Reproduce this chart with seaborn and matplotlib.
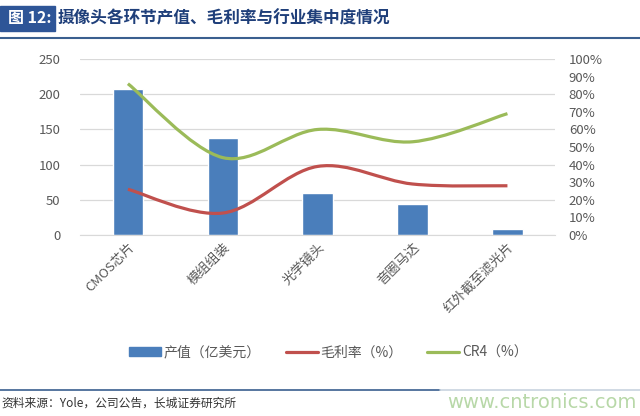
import numpy as np
import pandas as pd
import seaborn as sns
import matplotlib.pyplot as plt
from matplotlib.path import Path
from matplotlib.patches import PathPatch, Rectangle
from matplotlib.lines import Line2D

categories = ['CMOS芯片', '模组组装', '光学镜头', '音圈马达', '红外截至滤光片']
output_value = [207, 138, 60, 44, 9]          # 亿美元
gross_margin = [0.26, 0.125, 0.39, 0.29, 0.28]
cr4 = [0.86, 0.44, 0.60, 0.53, 0.69]
left_ticks = [0, 50, 100, 150, 200, 250]
right_ticks = [0, 0.1, 0.2, 0.3, 0.4, 0.5, 0.6, 0.7, 0.8, 0.9, 1.0]

sns.set_style('white')
plt.rcParams['font.family'] = ['Noto Sans CJK SC', 'DejaVu Sans']

blue = '#4A7EBB'
red = '#C0504D'
green = '#9BBB59'
grey = '#595959'


def smooth_path(xs, ys):
    # excel-like smoothed line: cubic bezier through every point
    xs = np.asarray(xs, float)
    ys = np.asarray(ys, float)
    n = len(xs)
    verts = [(xs[0], ys[0])]
    codes = [Path.MOVETO]
    for i in range(n - 1):
        p0 = i - 1 if i > 0 else i
        p3 = i + 2 if i + 2 < n else i + 1
        c1 = (xs[i] + (xs[i + 1] - xs[p0]) / 6, ys[i] + (ys[i + 1] - ys[p0]) / 6)
        c2 = (xs[i + 1] - (xs[p3] - xs[i]) / 6, ys[i + 1] - (ys[p3] - ys[i]) / 6)
        verts += [c1, c2, (xs[i + 1], ys[i + 1])]
        codes += [Path.CURVE4] * 3
    return Path(verts, codes)


df = pd.DataFrame({'cat': categories, 'value': output_value,
                   'margin': gross_margin, 'cr4': cr4})

fig = plt.figure(figsize=(6.4, 4.16), dpi=100)
ax = fig.add_axes([0.125, 0.435, 0.742, 0.423])

sns.barplot(data=df, x='cat', y='value', color=blue, saturation=1, width=0.32, ax=ax)
ax.set_xlim(-0.505, 4.5)
ax.set_ylim(0, 250)
ax.set_yticks(left_ticks)
ax.yaxis.grid(True, color='#D9D9D9', lw=0.9)
ax.set_axisbelow(True)
for s in ['top', 'right', 'left']:
    ax.spines[s].set_visible(False)
ax.spines['bottom'].set_color('#D9D9D9')
ax.set_xlabel('')
ax.set_ylabel('')
ax.tick_params(axis='y', length=0, pad=14, labelsize=9.5, labelcolor=grey)
ax.tick_params(axis='x', length=0, pad=4, labelsize=9.5, labelcolor=grey)
plt.setp(ax.get_xticklabels(), rotation=45, ha='right', rotation_mode='anchor')

ax2 = ax.twinx()
ax2.set_ylim(0, 1.0)
ax2.set_yticks(right_ticks)
ax2.set_yticklabels(['{:.0f}%'.format(t * 100) for t in right_ticks])
ax2.tick_params(axis='y', length=0, pad=10, labelsize=9.5, labelcolor=grey)
for s in ax2.spines.values():
    s.set_visible(False)

xpos = np.arange(len(categories))
ax2.add_patch(PathPatch(smooth_path(xpos, df['margin']), fill=False, ec=red, lw=2.3, capstyle='butt'))
ax2.add_patch(PathPatch(smooth_path(xpos, df['cr4']), fill=False, ec=green, lw=2.3, capstyle='butt'))

handles = [Rectangle((0, 0), 1, 1, color=blue),
           Line2D([], [], color=red, lw=2.3),
           Line2D([], [], color=green, lw=2.3)]
labels = ['产值（亿美元）', '毛利率（%）', 'CR4（%）']
fig.legend(handles, labels, loc='center', bbox_to_anchor=(0.513, 0.153), ncol=3,
           frameon=False, fontsize=10, labelcolor=grey, handlelength=2.3,
           handleheight=0.6, handletextpad=0.2, columnspacing=1.8)

# title bar
fig.patches.append(Rectangle((0.0, 1 - 31 / 416), 55 / 640, 25 / 416, transform=fig.transFigure,
                             color='#2E5597', zorder=0))
fig.text(0.012, 1 - 18 / 416, '图 12:', color='white', fontsize=11.5, fontweight='bold', va='center')
fig.text(58 / 640, 1 - 18 / 416, '摄像头各环节产值、毛利率与行业集中度情况', color='#1F3F7A',
         fontsize=12, fontweight='bold', va='center')
fig.add_artist(Line2D([0, 1], [1 - 38 / 416, 1 - 38 / 416], color='#3A5F8F', lw=1.5,
                      transform=fig.transFigure))

# footer
fig.add_artist(Line2D([0, 440 / 640], [1 - 390 / 416, 1 - 390 / 416], color='#3A5F8F', lw=1.2,
                      transform=fig.transFigure))
fig.add_artist(Line2D([440 / 640, 1], [1 - 390 / 416, 1 - 390 / 416], color='#C8D3DF', lw=1.2,
                      transform=fig.transFigure))
fig.text(0.003, 1 - 403 / 416, '资料来源：Yole，公司公告，长城证券研究所', color='#333333',
         fontsize=8.5, style='italic', va='center')
fig.text(0.995, 1 - 402 / 416, 'www.cntronics.com', color='#B8D8A8', fontsize=14,
         ha='right', va='center', family='DejaVu Sans')

fig.savefig('out.png', dpi=100)
